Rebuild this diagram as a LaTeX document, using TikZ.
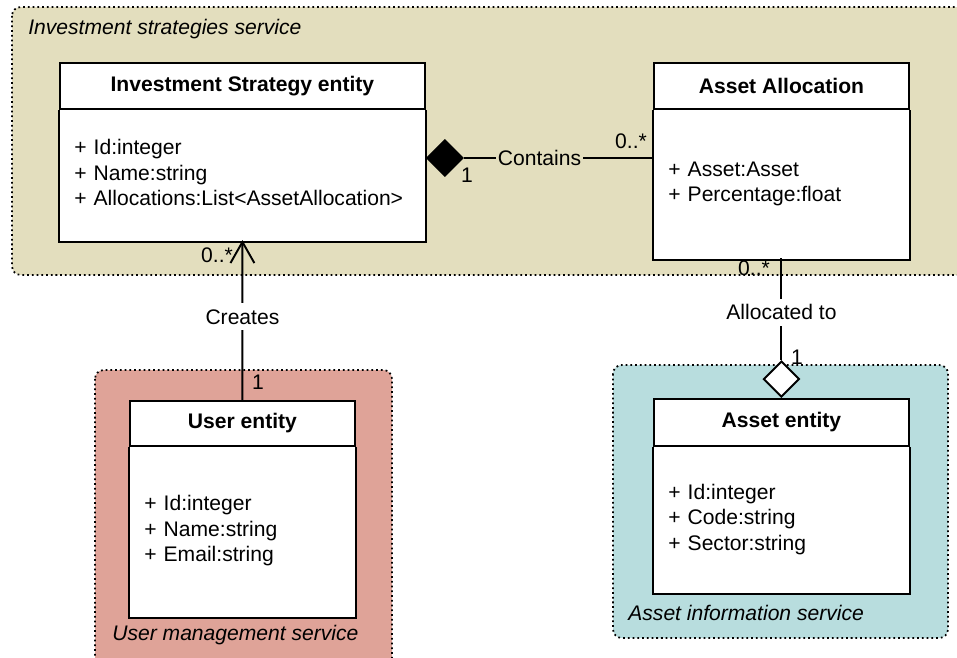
\documentclass[tikz,border=0pt]{standalone}
\usepackage{fontspec}
\setmainfont{Liberation Sans}
\usepackage{xcolor}
\usepackage{tikz}
\usetikzlibrary{arrows.meta,positioning,calc,shapes.geometric}

\definecolor{svctan}{RGB}{227,222,190}
\definecolor{svcpink}{RGB}{223,163,152}
\definecolor{svcteal}{RGB}{184,221,222}
\newcommand{\diagfont}{\fontsize{12}{14.5}\selectfont}

\begin{document}
\begin{tikzpicture}[x=0.02cm, y=-0.02cm, font=\diagfont,
  service/.style={line width=1pt, dash pattern=on 1pt off 1.7pt, rounded corners=5pt},
  svctitle/.style={font=\diagfont\itshape, inner sep=0pt, anchor=west},
  head/.style={draw, line width=1.1pt, fill=white, font=\diagfont\bfseries, inner sep=0pt, anchor=north west},
  body/.style={align=left, inner xsep=0.3cm, inner ysep=0pt, anchor=north west},
  comp/.style={diamond, aspect=1, draw, fill=black, line width=1.1pt, inner sep=0pt, minimum width=0.72cm, minimum height=0.72cm},
  aggr/.style={diamond, aspect=1, draw, fill=white, line width=1.1pt, inner sep=0pt, minimum width=0.72cm, minimum height=0.72cm},
  link/.style={line width=1.1pt}]
\useasboundingbox (0,0) rectangle (957,657);

\draw[service, fill=svctan] (12,7) rectangle (975,275);
\draw[service, fill=svcpink] (95,370) rectangle (392,680);
\draw[service, fill=svcteal] (613,365) rectangle (948,638);
\node[svctitle] (istitle) at (28,29) {Investment strategies service};
\node[svctitle] (umtitle) at (112,635) {User management service};
\node[svctitle] (aititle) at (628,613) {Asset information service};

\node[head, minimum width=7.3cm, minimum height=0.92cm] (ish) at (59,62) {Investment Strategy entity};
\draw[link, fill=white] (ish.south west) -- ++(0,132) -| (ish.south east);
\node[body, text width=6.7cm, minimum height=2.5cm] (isb) at (ish.south west) {+ Id:integer\\ + Name:string\\ + Allocations:List<AssetAllocation>};

\node[head, minimum width=5.1cm, minimum height=0.92cm] (aah) at (653,62) {Asset Allocation};
\draw[link, fill=white] (aah.south west) -- ++(0,150) -| (aah.south east);
\node[body, text width=4.5cm, minimum height=2.95cm] (aab) at (aah.south west) {+ Asset:Asset\\ + Percentage:float};

\node[head, minimum width=4.5cm, minimum height=0.9cm] (ush) at (129,400) {User entity};
\draw[link, fill=white] (ush.south west) -- ++(0,171) -| (ush.south east);
\node[body, text width=3.9cm, minimum height=3.35cm] (usb) at (ush.south west) {+ Id:integer\\ + Name:string\\ + Email:string};

\node[head, minimum width=5.1cm, minimum height=0.94cm] (ash) at (653,398) {Asset entity};
\draw[link, fill=white] (ash.south west) -- ++(0,147) -| (ash.south east);
\node[body, text width=4.5cm, minimum height=2.88cm] (asb) at (ash.south west) {+ Id:integer\\ + Code:string\\ + Sector:string};

\node[comp, anchor=west] (has) at (ish.south east |- 0,158) {};
\draw[link] (has.east) -- (aah.south west |- has.east) node[pos=0.4, fill=svctan, inner xsep=1pt] (contains) {Contains};
\node (m1) at (467,175) {1};
\node (m2) at (631,141) {0..*};

\draw[link, -{Straight Barb[length=12pt, width=13.6pt]}] (ush.north) -- (ish.south |- 0,240) node[pos=0.52, fill=white] (creates) {Creates};
\node (m3) at (217,255) {0..*};
\node (m4) at (258,382) {1};

\node[aggr, anchor=south] (agg) at (ash.north) {};
\draw[link] (aah.south |- 0,258) -- (agg.north) node[pos=0.53, fill=white] (allocated) {Allocated to};
\node (m5) at (754,268) {0..*};
\node (m6) at (797,357) {1};
\end{tikzpicture}
\end{document}
